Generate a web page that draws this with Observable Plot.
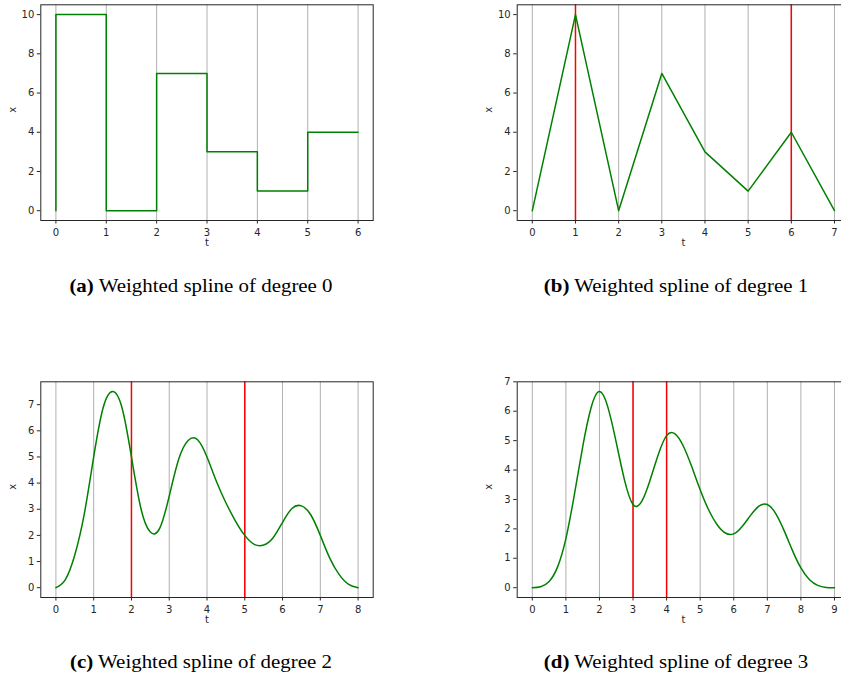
<!DOCTYPE html>
<html>
<head>
<meta charset="utf-8">
<script src="https://cdn.jsdelivr.net/npm/d3@7"></script>
<script src="https://cdn.jsdelivr.net/npm/@observablehq/plot@0.6"></script>
<style>
  html, body { margin: 0; padding: 0; background: #fff; overflow: hidden; }
  #page { position: relative; width: 841px; height: 673px; overflow: hidden; }
  .panel { position: absolute; overflow: hidden; height: 250px; }
  .panel svg { max-width: none !important; }
  .cap { position: absolute; width: 400px; text-align: center; font-family: "Liberation Serif", "Times New Roman", serif; font-size: 19px; line-height: 1; color: #000; white-space: nowrap; transform: scaleX(1.1); transform-origin: center; }
</style>
</head>
<body>
<div id="page"></div>
<script>
// ---- data ----
const weights = [10, 0, 7, 3, 1, 4];

// (a) degree 0 (step)
const tA = [0, 0, 1, 2, 3, 4, 5, 6];
const xA = [0, 10, 0, 7, 3, 1, 4, 4];
const ticksXA = [0, 1, 2, 3, 4, 5, 6];
const ticksYA = [0, 2, 4, 6, 8, 10];
const knotsA = [];

// (b) degree 1
const tB = [0, 1, 2, 3, 4, 5, 6, 7];
const xB = [0, 10, 0, 7, 3, 1, 4, 0];
const ticksXB = [0, 1, 2, 3, 4, 5, 6, 7];
const ticksYB = [0, 2, 4, 6, 8, 10];
const knotsB = [1, 6];

// (c) degree 2
const tC = [0, 0.25, 0.5, 0.75, 1, 1.25, 1.5, 1.75, 2, 2.25, 2.5, 2.75, 3, 3.25, 3.5, 3.75, 4, 4.25, 4.5, 4.75, 5, 5.25, 5.5, 5.75, 6, 6.25, 6.5, 6.75, 7, 7.25, 7.5, 7.75, 8];
const xC = [0, 0.31, 1.25, 2.81, 5, 6.88, 7.5, 6.88, 5, 3.03, 2.13, 2.28, 3.5, 4.91, 5.63, 5.66, 5, 4.06, 3.25, 2.56, 2, 1.66, 1.63, 1.91, 2.5, 3.03, 3.13, 2.78, 2, 1.13, 0.5, 0.13, 0];
const ticksXC = [0, 1, 2, 3, 4, 5, 6, 7, 8];
const ticksYC = [0, 1, 2, 3, 4, 5, 6, 7];
const knotsC = [2, 5];

// (d) degree 3
const tD = [0, 0.25, 0.5, 0.75, 1, 1.25, 1.5, 1.75, 2, 2.25, 2.5, 2.75, 3, 3.25, 3.5, 3.75, 4, 4.25, 4.5, 4.75, 5, 5.25, 5.5, 5.75, 6, 6.25, 6.5, 6.75, 7, 7.25, 7.5, 7.75, 8, 8.25, 8.5, 8.75, 9];
const xD = [0, 0.03, 0.21, 0.70, 1.67, 3.15, 4.79, 6.12, 6.67, 6.14, 4.94, 3.64, 2.83, 2.92, 3.63, 4.52, 5.17, 5.23, 4.81, 4.11, 3.33, 2.65, 2.15, 1.86, 1.83, 2.08, 2.46, 2.77, 2.83, 2.52, 1.94, 1.26, 0.67, 0.28, 0.08, 0.01, 0];
const ticksXD = [0, 1, 2, 3, 4, 5, 6, 7, 8, 9];
const ticksYD = [0, 1, 2, 3, 4, 5, 6, 7];
const knotsD = [3, 4];

const captions = [
  ["(a)", "Weighted spline of degree 0"],
  ["(b)", "Weighted spline of degree 1"],
  ["(c)", "Weighted spline of degree 2"],
  ["(d)", "Weighted spline of degree 3"]
];

// ---- drawing ----
const page = document.getElementById("page");
const fmt = d => String(d);

function panel({t, x, curve, xDomain, yDomain, xTicks, yTicks, knots, left, top, width, marginLeft, marginRight, clipWidth}) {
  const pts = t.map((d, i) => ({t: d, x: x[i]}));
  const chart = Plot.plot({
    width, height: 250,
    marginLeft, marginRight, marginTop: 4.3, marginBottom: 30,
    x: {domain: xDomain},
    y: {domain: yDomain},
    style: {fontFamily: "DejaVu Sans", fontSize: "10px", color: "#262626", background: "transparent", overflow: "visible"},
    marks: [
      Plot.ruleX(xTicks, {stroke: "#b0b0b0", strokeWidth: 1}),
      Plot.ruleX(knots, {stroke: "red", strokeWidth: 1.5}),
      Plot.line(pts, {x: "t", y: "x", stroke: "green", strokeWidth: 1.5, curve}),
      Plot.frame({stroke: "#262626", strokeWidth: 1}),
      Plot.axisX({ticks: xTicks, tickFormat: fmt, tickSize: 3.5, tickPadding: 4.5, label: null, fontSize: 10}),
      Plot.axisY({ticks: yTicks, tickFormat: fmt, tickSize: 3.5, tickPadding: 3, label: null, fontSize: 10}),
      Plot.text(["t"], {text: d => d, frameAnchor: "bottom", dy: 25.5, fontSize: 10}),
      Plot.text(["x"], {text: d => d, frameAnchor: "left", dx: -28, rotate: -90, fontSize: 10})
    ]
  });
  chart.style.maxWidth = "none";
  const div = document.createElement("div");
  div.className = "panel";
  div.style.left = left + "px";
  div.style.top = top + "px";
  div.style.width = clipWidth + "px";
  div.appendChild(chart);
  page.appendChild(div);
}

panel({t: tA, x: xA, curve: "step-after", xDomain: [-0.3, 6.3], yDomain: [-0.5, 10.5],
  xTicks: ticksXA, yTicks: ticksYA, knots: knotsA, left: 0, top: 0, width: 420, marginLeft: 40.3, marginRight: 47.3, clipWidth: 420});
panel({t: tB, x: xB, curve: "linear", xDomain: [-0.35, 7.35], yDomain: [-0.5, 10.5],
  xTicks: ticksXB, yTicks: ticksYB, knots: knotsB, left: 420, top: 0, width: 429.1, marginLeft: 96.7, marginRight: 0, clipWidth: 421});
panel({t: tC, x: xC, curve: "natural", xDomain: [-0.4, 8.4], yDomain: [-0.375, 7.875],
  xTicks: ticksXC, yTicks: ticksYC, knots: knotsC, left: 0, top: 377, width: 420, marginLeft: 40.3, marginRight: 47.3, clipWidth: 420});
panel({t: tD, x: xD, curve: "natural", xDomain: [-0.45, 9.45], yDomain: [-0.333, 7.0],
  xTicks: ticksXD, yTicks: ticksYD, knots: knotsD, left: 420, top: 377, width: 429.1, marginLeft: 96.7, marginRight: 0, clipWidth: 421});

const capPos = [[200.5, 276], [675.5, 276], [200.5, 652], [675.5, 652]];
captions.forEach(([lab, txt], i) => {
  const c = document.createElement("div");
  c.className = "cap";
  c.style.left = (capPos[i][0] - 200) + "px";
  c.style.top = capPos[i][1] + "px";
  const b = document.createElement("b");
  b.textContent = lab;
  c.appendChild(b);
  c.appendChild(document.createTextNode(" " + txt));
  page.appendChild(c);
});
</script>
</body>
</html>
